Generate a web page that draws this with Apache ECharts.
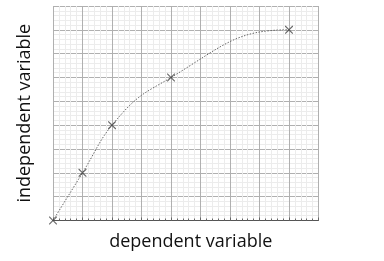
<!DOCTYPE html>
<html><head><meta charset="utf-8">
<script src="https://cdn.jsdelivr.net/npm/echarts@6/dist/echarts.min.js"></script>
<style>html,body{margin:0;padding:0;background:#fff}#c{width:384px;height:261px}</style>
</head><body><div id="c"></div>
<script>
const xValues = [0, 1, 2, 4, 8];
const yValues = [0, 2, 4, 6, 8];
const xAxisName = 'dependent variable';
const yAxisName = 'independent variable';

const chart = echarts.init(document.getElementById('c'), null, {renderer: 'canvas'});
const fontFam = '"Open Sans", sans-serif';
const pts = xValues.map((x, i) => [x, yValues[i]]);

// smooth curve through the data points: tangent = mean of neighbouring slopes, flat at the end
function renderCurve(params, api) {
  const n = pts.length;
  const sec = [];
  for (let i = 0; i < n - 1; i++) sec.push((pts[i + 1][1] - pts[i][1]) / (pts[i + 1][0] - pts[i][0]));
  const slope = [];
  for (let i = 0; i < n; i++) {
    if (i === 0) slope.push(sec[0]);
    else if (i === n - 1) slope.push(0);
    else slope.push((sec[i - 1] + sec[i]) / 2);
  }
  const k = 0.45;
  const p0 = api.coord(pts[0]);
  let d = 'M' + p0[0] + ' ' + p0[1];
  for (let i = 0; i < n - 1; i++) {
    const h = pts[i + 1][0] - pts[i][0];
    const c1 = api.coord([pts[i][0] + k * h, pts[i][1] + k * h * slope[i]]);
    const c2 = api.coord([pts[i + 1][0] - k * h, pts[i + 1][1] - k * h * slope[i + 1]]);
    const e = api.coord(pts[i + 1]);
    d += ' C' + c1[0] + ' ' + c1[1] + ' ' + c2[0] + ' ' + c2[1] + ' ' + e[0] + ' ' + e[1];
  }
  return {
    type: 'path',
    shape: {pathData: d},
    style: {fill: 'none', stroke: '#666', lineWidth: 1, lineDash: [1.5, 1.5]}
  };
}

chart.setOption({
  animation: false,
  grid: {left: 53, right: 65.5, top: 6, bottom: 40.5},
  xAxis: {
    type: 'value', min: 0, max: 9, interval: 1,
    name: xAxisName, nameLocation: 'middle', nameGap: 12,
    nameTextStyle: {fontFamily: fontFam, fontSize: 18, color: '#111', padding: [0, 0, 0, 10]},
    axisLabel: {show: false},
    axisLine: {show: true, lineStyle: {color: '#555', width: 1}},
    axisTick: {show: true, inside: true, length: 3, lineStyle: {color: '#666'}},
    minorTick: {show: true, splitNumber: 5, length: 2, lineStyle: {color: '#666'}},
    splitLine: {show: true, lineStyle: {color: '#b0b0b0', width: 1}},
    minorSplitLine: {show: true, lineStyle: {color: '#ececec', width: 1}}
  },
  yAxis: {
    type: 'value', min: 0, max: 9, interval: 1,
    name: yAxisName, nameLocation: 'middle', nameGap: 19,
    nameTextStyle: {fontFamily: fontFam, fontSize: 18, color: '#111'},
    axisLabel: {show: false},
    axisLine: {show: false},
    axisTick: {show: false},
    minorTick: {show: false, splitNumber: 5},
    splitLine: {show: true, lineStyle: {color: '#b0b0b0', width: 1}},
    minorSplitLine: {show: true, lineStyle: {color: '#ececec', width: 1}}
  },
  series: [{
    type: 'custom',
    data: [0],
    renderItem: renderCurve,
    silent: true,
    z: 2
  }, {
    type: 'scatter',
    data: pts,
    symbol: 'path://M0,0L1,0L5,4L9,0L10,0L10,1L6,5L10,9L10,10L9,10L5,6L1,10L0,10L0,9L4,5L0,1Z',
    symbolSize: 8,
    itemStyle: {color: '#444'},
    z: 3
  }]
});
</script></body></html>
